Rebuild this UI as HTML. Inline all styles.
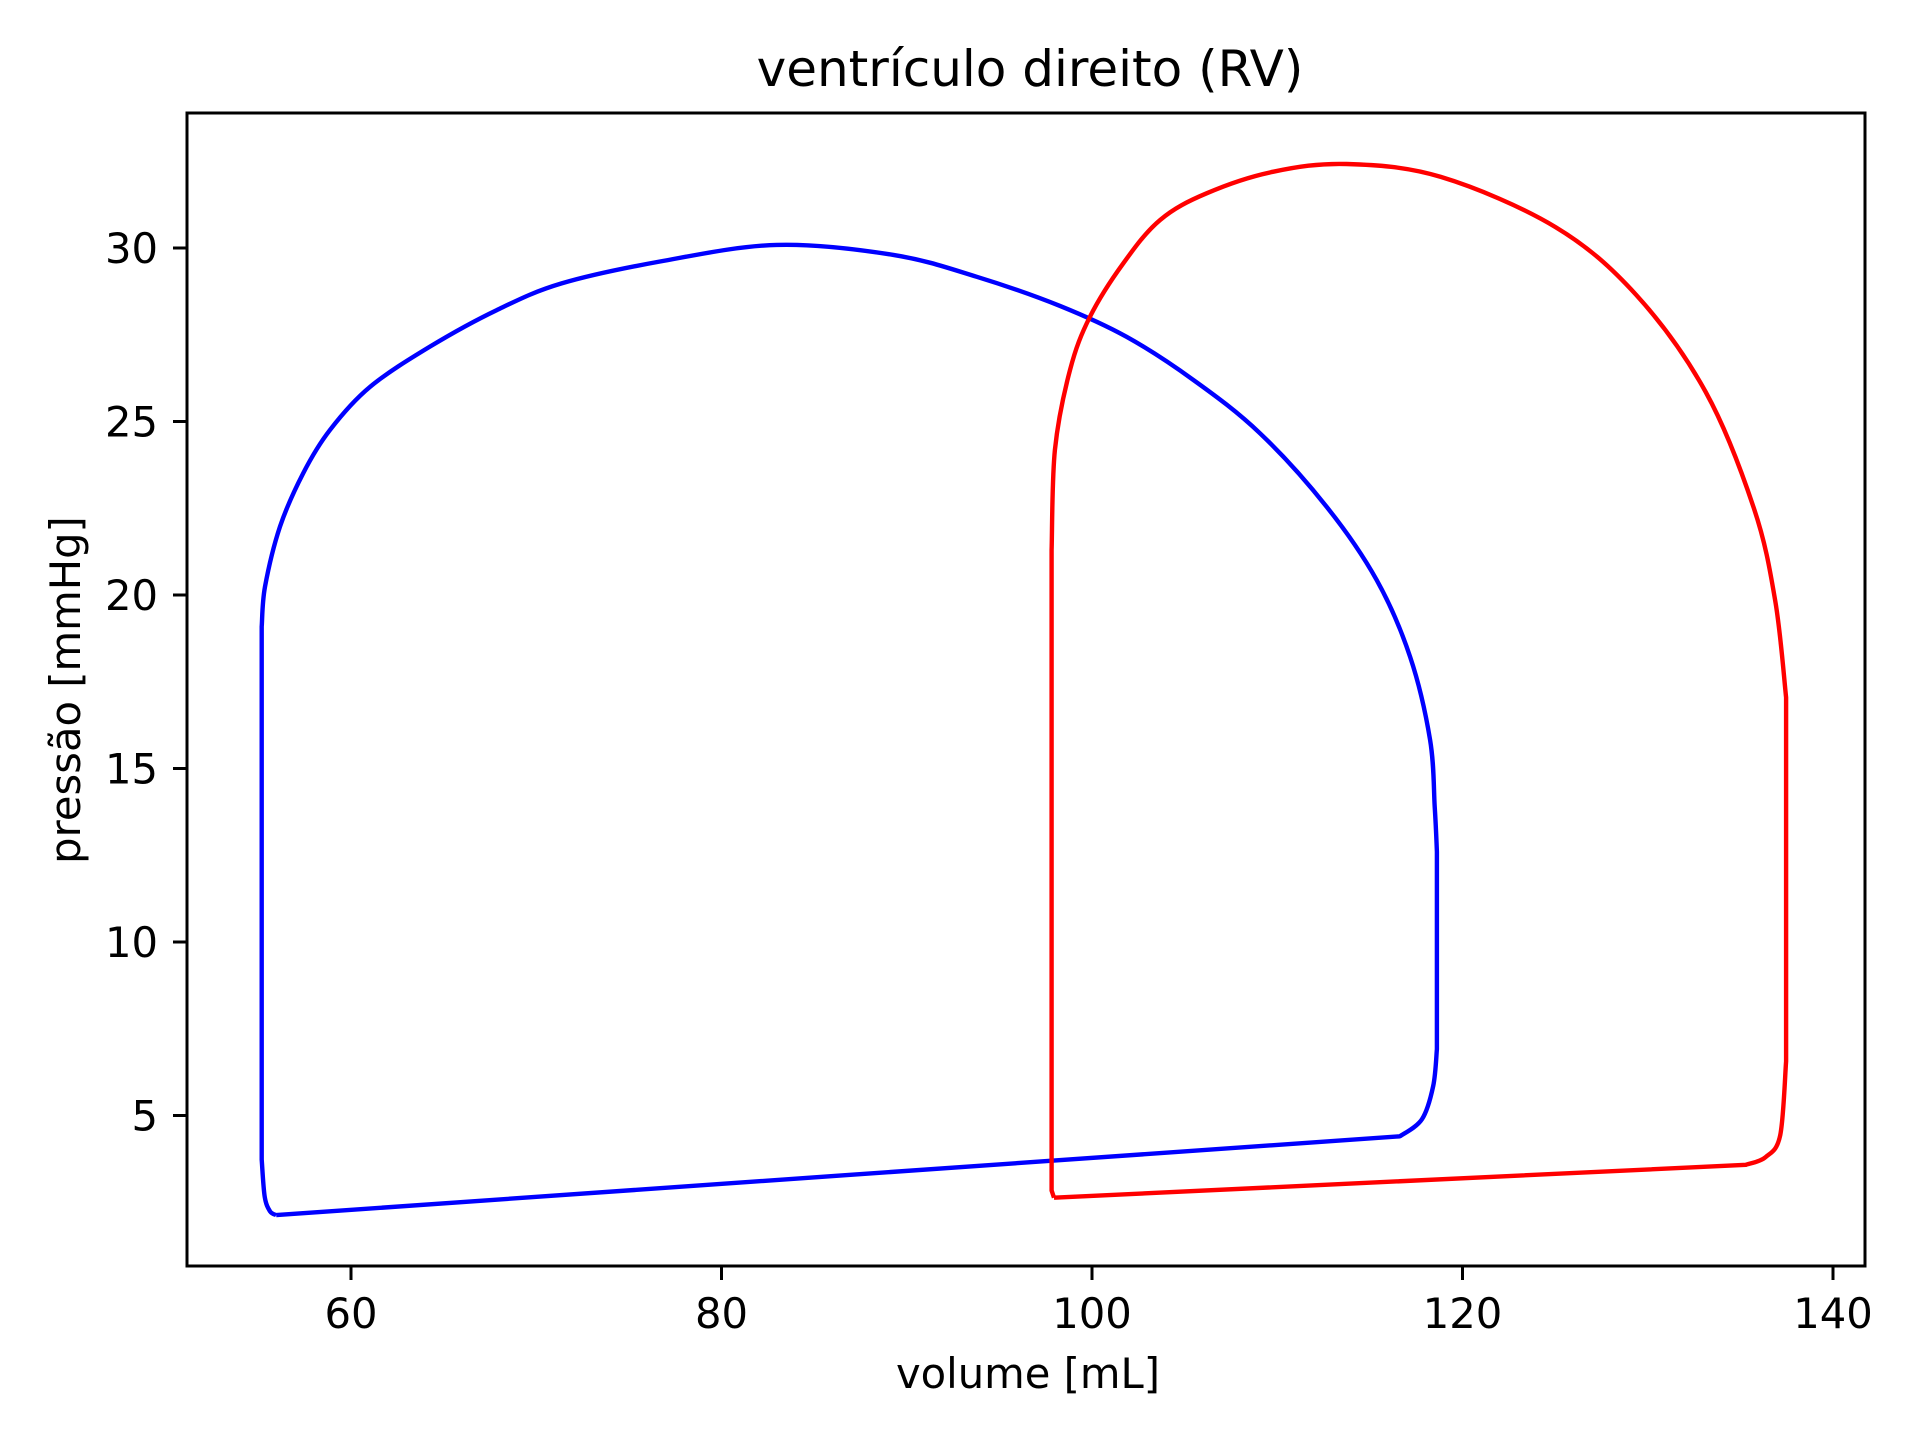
<!DOCTYPE html>
<html><head><meta charset="utf-8"><style>
html,body{margin:0;padding:0;background:#fff;}
svg text{font-family:"DejaVu Sans","Liberation Sans",sans-serif;fill:#000;}
</style></head><body>
<svg width="1920" height="1440" viewBox="0 0 1920 1440" xmlns="http://www.w3.org/2000/svg">
<rect width="1920" height="1440" fill="#fff"/>
<text x="1030" y="86" font-size="50" text-anchor="middle">ventrículo direito (RV)</text>
<g id="ticks"></g>
<g id="series"></g>
<rect x="187" y="113" width="1678" height="1153" fill="none" stroke="#000" stroke-width="3"/>
<text x="1028" y="1388" font-size="41.7" text-anchor="middle">volume [mL]</text>
<text transform="translate(80,690) rotate(-90)" font-size="41.7" text-anchor="middle">pressão [mmHg]</text>
</svg>
<script>
const xTicks=[60,80,100,120,140];
const yTicks=[5,10,15,20,25,30];
const blueVol=[55.96,116.62,117.81,118.42,118.62,118.62,118.50,118.25,117.17,115.37,112.67,109.07,105.47,101.87,98.27,93.78,89.28,82.98,76.68,71.37,67.87,64.27,61.03,58.87,57.42,56.17,55.36,55.18,55.18,55.34,55.63,55.96];
const bluePres=[2.13,4.40,4.89,5.85,6.91,12.60,13.90,15.82,18.22,20.43,22.54,24.66,26.20,27.44,28.33,29.17,29.80,30.09,29.61,28.98,28.21,27.16,26.00,24.76,23.51,21.97,20.24,19.09,3.73,2.66,2.24,2.13];
const redVol=[97.95,135.30,136.36,137.15,137.47,137.47,136.88,135.73,133.13,129.37,125.03,118.83,113.75,109.79,106.20,103.68,101.69,99.89,98.81,98.00,97.82,97.82,97.95];
const redPres=[2.63,3.58,3.80,4.43,6.56,17.05,19.84,22.50,25.85,28.65,30.60,32.05,32.42,32.20,31.58,30.81,29.56,28.02,26.48,24.18,21.30,2.84,2.63];
const blueCorners=[0,1,4,5,27,28,31];
const redCorners=[0,1,4,5,20,21,22];
const NS='http://www.w3.org/2000/svg';
function xs(v){return 351+(v-60)*18.525;}
function ys(p){return 248+(30-p)*34.7;}
const tg=document.getElementById('ticks');
xTicks.forEach(t=>{
 const l=document.createElementNS(NS,'line');
 l.setAttribute('x1',xs(t));l.setAttribute('x2',xs(t));l.setAttribute('y1',1266);l.setAttribute('y2',1280);
 l.setAttribute('stroke','#000');l.setAttribute('stroke-width','3');
 
 
 tg.appendChild(l);
 const tx=document.createElementNS(NS,'text');
 tx.setAttribute('x',xs(t));tx.setAttribute('y',1328);tx.setAttribute('font-size','41.7');tx.setAttribute('text-anchor','middle');
 tx.textContent=t;
 
 
 tg.appendChild(tx);
});
yTicks.forEach(t=>{
 const l=document.createElementNS(NS,'line');
 l.setAttribute('x1',173);l.setAttribute('x2',187);l.setAttribute('y1',ys(t));l.setAttribute('y2',ys(t));
 l.setAttribute('stroke','#000');l.setAttribute('stroke-width','3');
 
 
 tg.appendChild(l);
 const tx=document.createElementNS(NS,'text');
 tx.setAttribute('x',158);tx.setAttribute('y',ys(t)+15);tx.setAttribute('font-size','41.7');tx.setAttribute('text-anchor','end');
 tx.textContent=t;
 
 
 tg.appendChild(tx);
});
const sg=document.getElementById('series');
function drawSeries(vol,pres,corners,color,name){
 const P=vol.map((v,i)=>[xs(v),ys(pres[i])]);
 let d='M'+P[0][0].toFixed(1)+','+P[0][1].toFixed(1);
 for(let c=0;c<corners.length-1;c++){
  const a=corners[c],b=corners[c+1];
  for(let i=a;i<b;i++){
   const p0=P[Math.max(i-1,a)],p1=P[i],p2=P[i+1],p3=P[Math.min(i+2,b)];
   const c1=[p1[0]+(p2[0]-p0[0])/6,p1[1]+(p2[1]-p0[1])/6];
   const c2=[p2[0]-(p3[0]-p1[0])/6,p2[1]-(p3[1]-p1[1])/6];
   d+=' C'+c1[0].toFixed(1)+','+c1[1].toFixed(1)+' '+c2[0].toFixed(1)+','+c2[1].toFixed(1)+' '+p2[0].toFixed(1)+','+p2[1].toFixed(1);
  }
 }
 const pl=document.createElementNS(NS,'path');
 pl.setAttribute('d',d);
 pl.setAttribute('fill','none');pl.setAttribute('stroke',color);pl.setAttribute('stroke-width','4.4');
 pl.setAttribute('stroke-linejoin','round');
 
 
 sg.appendChild(pl);
}
drawSeries(blueVol,bluePres,blueCorners,'#0000ff','blue-pv-loop');
drawSeries(redVol,redPres,redCorners,'#ff0000','red-pv-loop');
</script>
</body></html>
